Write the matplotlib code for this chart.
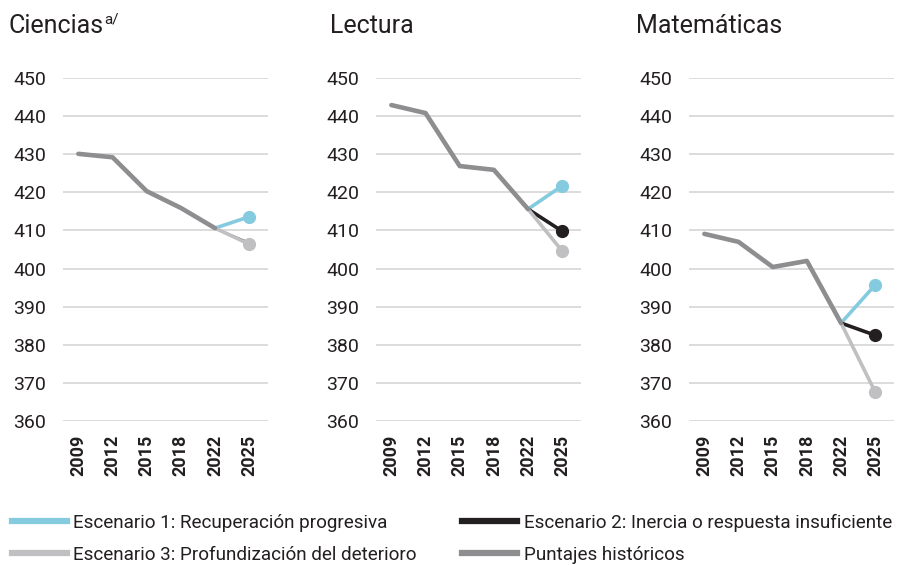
import matplotlib
matplotlib.use("Agg")
import matplotlib.pyplot as plt
from matplotlib.lines import Line2D

plt.rcParams['font.family'] = ['Roboto', 'DejaVu Sans']

years = ["2009", "2012", "2015", "2018", "2022", "2025"]
subjects = ["Ciencias", "Lectura", "Matemáticas"]

# historical scores 2009-2022
historico = {
    "Ciencias":    [430.1, 429.2, 420.3, 415.9, 410.6],
    "Lectura":     [442.9, 440.8, 426.9, 425.9, 415.6],
    "Matemáticas": [409.1, 407.0, 400.4, 402.0, 385.7],
}
# projected 2025 scores per scenario
esc1 = {"Ciencias": 413.6, "Lectura": 421.7, "Matemáticas": 395.7}
esc2 = {"Ciencias": 406.8, "Lectura": 409.8, "Matemáticas": 382.5}
esc3 = {"Ciencias": 406.4, "Lectura": 404.6, "Matemáticas": 367.6}

c_esc1 = "#85cbe0"
c_esc2 = "#231f20"
c_esc3 = "#c0c0c2"
c_hist = "#8e8e90"
c_grid = "#d9d9d9"
c_text = "#231f20"

W, H = 905, 565
fig = plt.figure(figsize=(W / 100, H / 100), dpi=100)

lefts = [63, 376, 689]
title_x = [8, 330, 636]
ax_w = 205
ax_top, ax_bot = 78, 421

titles = []
for i, s in enumerate(subjects):
    ax = fig.add_axes([lefts[i] / W, 1 - ax_bot / H, ax_w / W, (ax_bot - ax_top) / H])
    x = list(range(len(years)))
    h = historico[s]
    # scenario branches start at the 2022 value
    ax.plot([4, 5], [h[-1], esc1[s]], color=c_esc1, lw=2.6, solid_capstyle="round", zorder=3)
    ax.plot([5], [esc1[s]], "o", color=c_esc1, ms=8.5, zorder=3, clip_on=False)
    ax.plot([4, 5], [h[-1], esc2[s]], color=c_esc2, lw=2.6 if s != "Ciencias" else 1.2,
            solid_capstyle="round", zorder=3)
    ax.plot([5], [esc2[s]], "o", color=c_esc2, ms=8.5 if s != "Ciencias" else 0, zorder=3, clip_on=False)
    ax.plot([4, 5], [h[-1], esc3[s]], color=c_esc3, lw=2.6, solid_capstyle="round", zorder=4)
    ax.plot([5], [esc3[s]], "o", color=c_esc3, ms=8.5, zorder=4, clip_on=False)
    ax.plot(x[:5], h, color=c_hist, lw=3.3, solid_capstyle="round", zorder=5)

    ax.set_xlim(-0.45, 5.55)
    ax.set_ylim(360, 450)
    ax.set_yticks(range(360, 451, 10))
    ax.set_xticks(x)
    ax.set_xticklabels(years, rotation=90, fontsize=13, fontweight="bold", color=c_text)
    ax.tick_params(axis="x", length=0, pad=10)
    ax.tick_params(axis="y", length=0, pad=12, labelsize=14, labelcolor=c_text)
    ax.grid(axis="y", color=c_grid, lw=1.3)
    ax.set_axisbelow(True)
    for sp in ax.spines.values():
        sp.set_visible(False)

    t = fig.text(title_x[i] / W, 1 - 26 / H, s, fontsize=18, color=c_text, va="center", ha="left")
    titles.append(t)

# superscript note right after the first title
fig.canvas.draw()
bb = titles[0].get_window_extent()
fig.text((bb.x1 + 1) / W, 1 - 19 / H, "a/", fontsize=11, color=c_text, va="center", ha="left")

handles = [
    Line2D([], [], color=c_esc1, lw=4.5),
    Line2D([], [], color=c_esc3, lw=4.5),
    Line2D([], [], color=c_esc2, lw=4.5),
    Line2D([], [], color=c_hist, lw=4.5),
]
labels = [
    "Escenario 1: Recuperación progresiva",
    "Escenario 3: Profundización del deterioro",
    "Escenario 2: Inercia o respuesta insuficiente",
    "Puntajes históricos",
]
fig.legend(handles, labels, ncol=2, loc="upper left", bbox_to_anchor=(12 / W, 1 - 514 / H),
           frameon=False, fontsize=13.6, handlelength=2.9, handletextpad=0.35,
           columnspacing=2.4, labelspacing=0.72, borderaxespad=0, borderpad=0,
           labelcolor=c_text)

fig.savefig("out.png", dpi=100)
